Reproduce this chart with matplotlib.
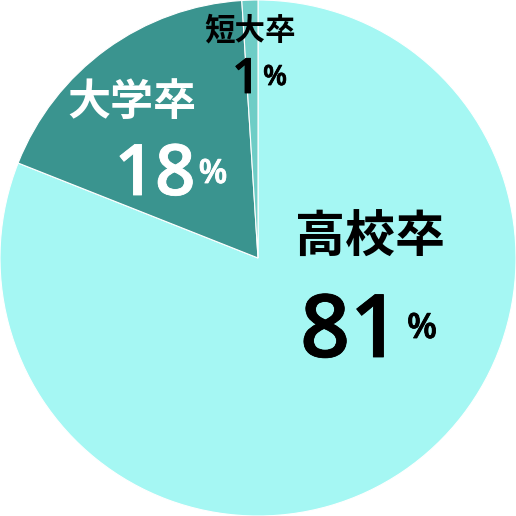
import matplotlib.pyplot as plt
import matplotlib.patheffects as pe

plt.rcParams['font.family'] = ['Noto Sans CJK JP', 'DejaVu Sans']

labels = ['高校卒', '大学卒', '短大卒']
values = [81, 18, 1]
colors = ['#a5f7f3', '#3a948f', '#6ecdc6']

fig = plt.figure(figsize=(5.16, 5.16), dpi=100)
ax = fig.add_axes([0, 0, 1, 1])
ax.pie(values, colors=colors, startangle=90, counterclock=False, radius=1,
       wedgeprops=dict(edgecolor='white', linewidth=0.8))
ax.set_xlim(-1, 1)
ax.set_ylim(-1, 1)
ax.set_aspect('equal')
ax.axis('off')

def px(x, y):
    return (x - 258) / 258, (258 - y) / 258

# name (centre, size), number (centre x, baseline, size), percent (centre x, baseline, size), colour
spec = [
    ((370, 238), 36, (350, 357), 63, (422, 338), 25, 'black'),
    ((132, 102), 31, (155, 195), 51, (213, 183), 24, 'white'),
    ((250, 30), 22, (246, 93), 35, (275, 85), 20, 'black'),
]
for lab, val, (p1, s1, p2, s2, p3, s3, c) in zip(labels, values, spec):
    thick = [pe.withStroke(linewidth=0.6, foreground=c)]
    ax.text(*px(*p1), lab, fontsize=s1, fontweight='bold', color=c,
            ha='center', va='center')
    ax.text(*px(*p2), str(val), fontsize=s2, fontweight='semibold', color=c,
            family='Open Sans', ha='center', va='baseline', path_effects=thick)
    ax.text(*px(*p3), '%', fontsize=s3, fontweight='semibold', color=c,
            family='Open Sans', ha='center', va='baseline', path_effects=thick)

fig.savefig('out.png', dpi=100)
